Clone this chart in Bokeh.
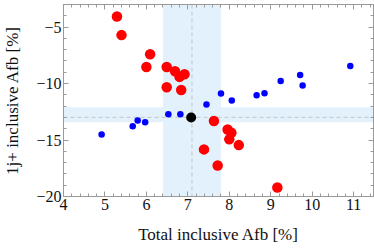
from bokeh.plotting import figure
from bokeh.models import (Range1d, SingleIntervalTicker, LinearAxis, BoxAnnotation,
                          Span, CustomJSTickFormatter)
from bokeh.embed import file_html
from bokeh.resources import INLINE

# data
red_x = [5.29, 5.40, 6.09, 6.00, 6.49, 6.69, 6.80, 6.92, 6.49, 6.84,
         7.63, 7.96, 8.05, 8.00, 8.23, 7.39, 7.72, 9.16]
red_y = [-4.06, -5.71, -7.40, -8.53, -8.53, -8.91, -9.41, -9.17, -10.33, -10.57,
         -13.32, -14.06, -14.35, -14.94, -15.45, -15.83, -17.25, -19.2]
blue_x = [4.92, 5.67, 5.79, 5.97, 6.53, 6.82, 7.45, 7.80, 8.06, 8.66,
          8.85, 9.24, 9.71, 9.77, 10.92]
blue_y = [-14.50, -13.79, -13.28, -13.43, -12.72, -12.72, -11.86, -10.88, -11.50, -11.04,
          -10.86, -9.77, -9.24, -10.18, -8.44]
sm_x = [7.08]
sm_y = [-13.0]
band_x = [6.40, 7.10, 7.80]     # low, central, high
band_y = [-13.43, -12.99, -12.10]

FONT = "Liberation Serif"
GRAY = "#9a9a9a"

p = figure(width=374, height=249, output_backend="svg", toolbar_location=None,
           x_range=Range1d(4, 11.48), y_range=Range1d(-20, -3.0),
           min_border_left=62, min_border_right=1, min_border_top=4, min_border_bottom=53)
p.grid.visible = False
p.outline_line_color = GRAY
p.background_fill_color = "white"

p.add_layout(BoxAnnotation(left=band_x[0], right=band_x[2], fill_color="#e3f1fd",
                           fill_alpha=1.0, line_color=None, level="underlay"))
p.add_layout(BoxAnnotation(bottom=band_y[0], top=band_y[2], fill_color="#e3f1fd",
                           fill_alpha=1.0, line_color=None, level="underlay"))
p.add_layout(Span(location=band_x[1], dimension="height", line_color="#c4c4c4",
                  line_dash="4 3", line_width=1, level="underlay"))
p.add_layout(Span(location=band_y[1], dimension="width", line_color="#c4c4c4",
                  line_dash="4 3", line_width=1, level="underlay"))

p.scatter(red_x, red_y, size=10.5, color="#ff0000", line_color=None)
p.scatter(blue_x, blue_y, size=6.5, color="#0000ff", line_color=None)
p.scatter(sm_x, sm_y, size=10, color="#000000", line_color=None)

fmt = CustomJSTickFormatter(code="return String(tick).replace('-', '\\u2212');")

def style(ax):
    ax.axis_line_color = GRAY
    ax.major_tick_line_color = GRAY
    ax.minor_tick_line_color = GRAY
    ax.major_tick_in = 5
    ax.major_tick_out = 0
    ax.minor_tick_in = 3
    ax.minor_tick_out = 0
    ax.major_label_text_font = FONT
    ax.major_label_text_font_size = "16px"
    ax.major_label_text_color = "#111111"
    ax.axis_label_text_font = FONT
    ax.axis_label_text_font_size = "17px"
    ax.axis_label_text_font_style = "normal"
    ax.axis_label_text_color = "#111111"
    ax.formatter = fmt

p.xaxis.ticker = SingleIntervalTicker(interval=1, num_minor_ticks=5)
p.yaxis.ticker = SingleIntervalTicker(interval=5, num_minor_ticks=5)
style(p.xaxis[0]); style(p.yaxis[0])
p.xaxis.axis_label = "Total inclusive Afb [%]"
p.yaxis.axis_label = "1j+ inclusive Afb [%]"
p.xaxis.major_label_standoff = 2
p.yaxis.major_label_standoff = 2
p.xaxis.axis_label_standoff = 12
p.yaxis.axis_label_standoff = 11

top = LinearAxis(ticker=SingleIntervalTicker(interval=1, num_minor_ticks=5))
right = LinearAxis(ticker=SingleIntervalTicker(interval=5, num_minor_ticks=5))
for ax in (top, right):
    style(ax)
    ax.major_label_text_font_size = "0px"
    ax.major_label_text_color = None
    ax.major_label_standoff = 0
    ax.axis_label = None
    ax.axis_label_standoff = 0
    ax.axis_label_text_font_size = "0px"
p.add_layout(top, "above")
p.add_layout(right, "right")

open("out.html", "w").write(file_html(p, INLINE))
